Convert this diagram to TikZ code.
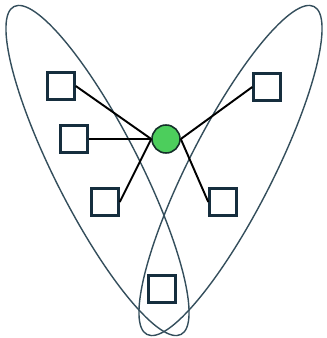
\documentclass[tikz,border=0pt]{standalone}
\usepackage{tikz}
\definecolor{loopcol}{RGB}{52,78,92}
\definecolor{boxcol}{RGB}{22,46,62}
\definecolor{hubgreen}{RGB}{76,206,92}

\begin{document}
\begin{tikzpicture}[
    box/.style={draw=boxcol, line width=1.4pt, fill=white, minimum size=0.54cm, inner sep=0pt},
    hubnode/.style={circle, draw=boxcol!80!hubgreen!60!black, line width=0.9pt, fill=hubgreen, minimum size=0.56cm, inner sep=0pt},
    loopline/.style={draw=loopcol, line width=0.8pt},
    link/.style={draw=black, line width=1.1pt}]
    \useasboundingbox (0,0) rectangle (6.52,6.76);

    % Hai vòng elip
    \draw[loopline, rotate around={-63:(1.95,3.35)}] (1.95,3.35) ellipse (3.68 and 0.84);
    \draw[loopline, rotate around={63:(4.61,3.35)}] (4.61,3.35) ellipse (3.68 and 0.84);

    % Các ô vuông
    \node[box] (a) at (1.22,5.04) {};
    \node[box] (b) at (1.48,3.98) {};
    \node[box] (c) at (2.10,2.72) {};
    \node[box] (d) at (5.34,5.02) {};
    \node[box] (e) at (4.46,2.72) {};
    \node[box] (f) at (3.24,0.98) {};

    % Nút trung tâm
    \node[hubnode] (hub) at (3.32,3.98) {};

    % Các cạnh nối
    \draw[link] (a.east) -- (hub.west);
    \draw[link] (b.east) -- (hub.west);
    \draw[link] (c.east) -- (hub.west);
    \draw[link] (d.west) -- (hub.east);
    \draw[link] (e.west) -- (hub.east);
\end{tikzpicture}
\end{document}
